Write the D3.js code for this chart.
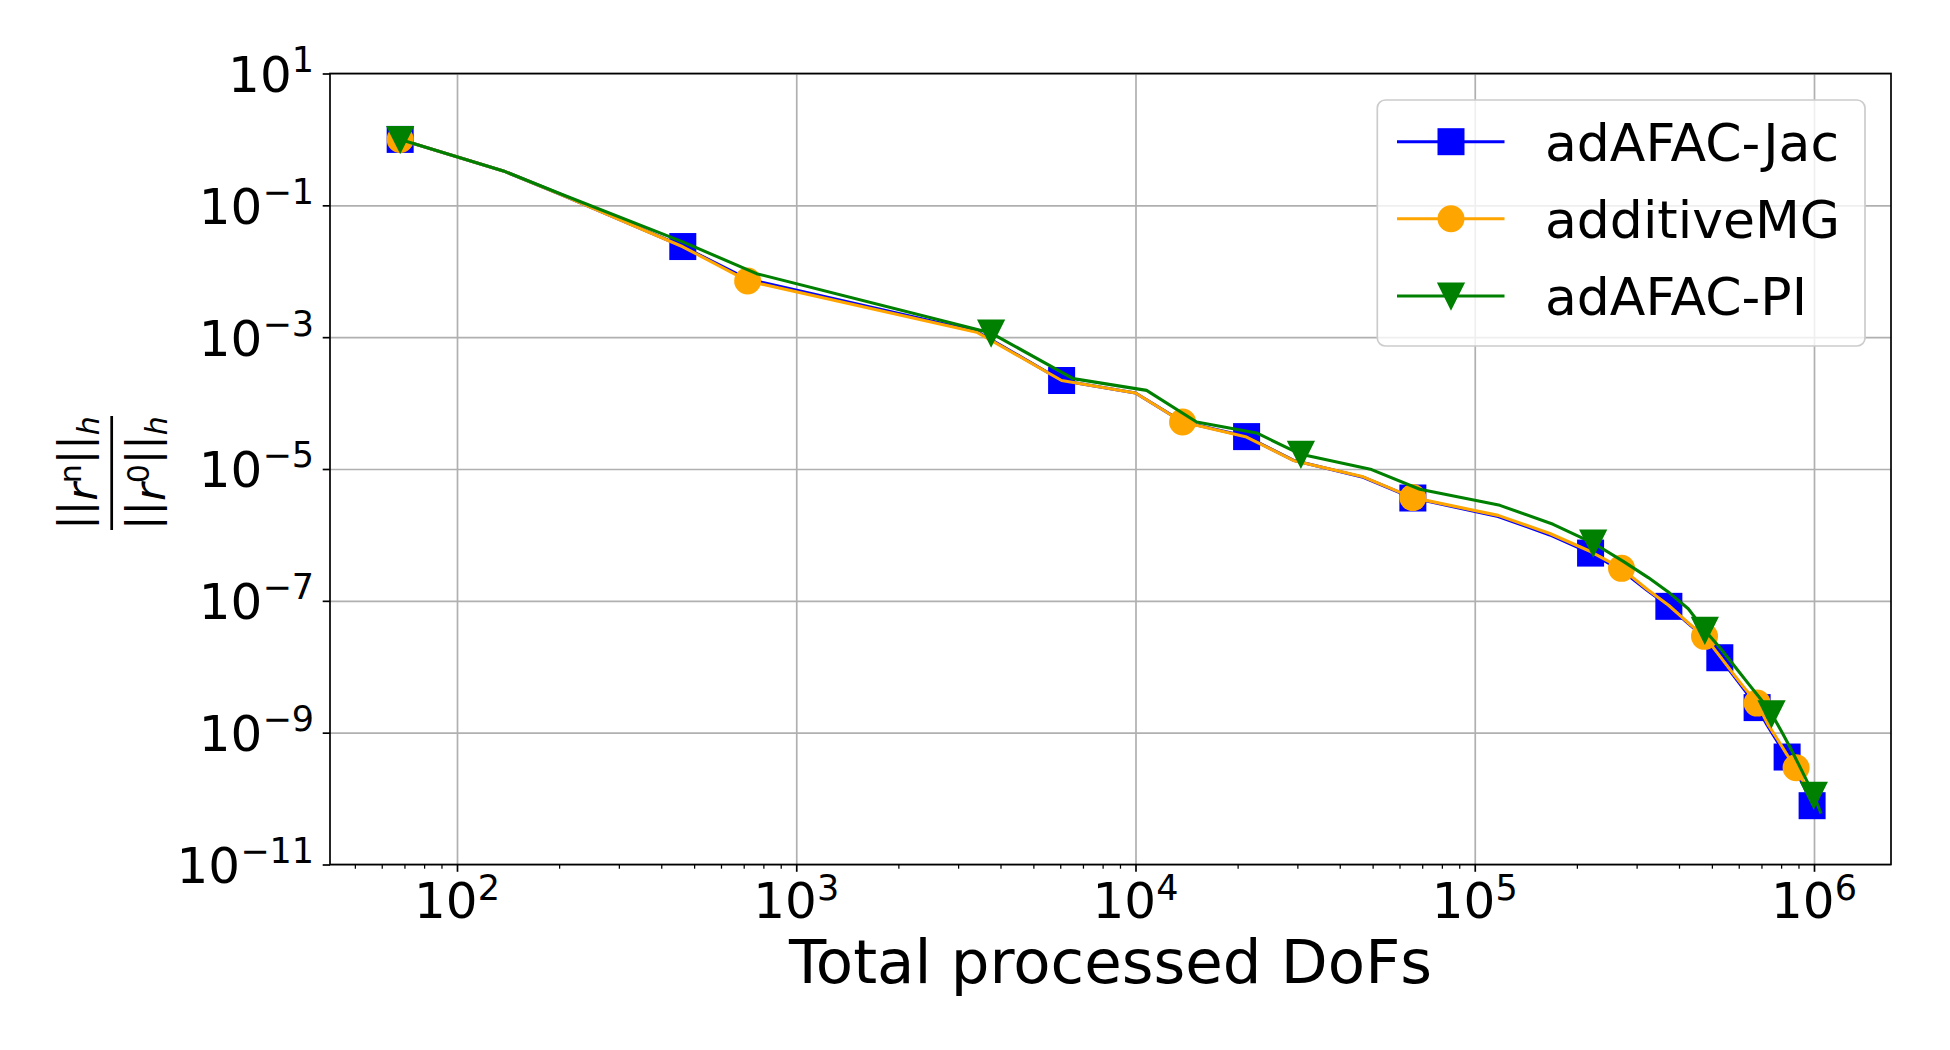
<!DOCTYPE html>
<html><head><meta charset="utf-8">
<script src="https://cdn.jsdelivr.net/npm/d3@7"></script>
<style>
body{margin:0;background:#fff}
text{font-family:"DejaVu Sans",sans-serif;fill:#000}
</style>
</head><body>
<svg id="chart" width="1950" height="1050"></svg>
<script>
// ---------------- data ----------------
const seriesNames = ["adAFAC-Jac", "additiveMG", "adAFAC-PI"];
const dofsJacMG = [68, 137, 205, 463, 719, 3402, 6056, 10000, 13764, 21256, 29160, 46900, 65700,
  117200, 166500, 219500, 270800, 322100, 373400, 424500, 475600, 527700, 578500, 629100,
  679700, 730800, 782000, 833200, 885500, 936300, 987200];
const resJac = [1.0, 0.333, 0.142, 0.0237, 7.6e-3, 1.23e-3, 2.2e-4, 1.42e-4, 5.2e-5, 3.1e-5,
  1.36e-5, 7.5e-6, 3.63e-6, 1.9e-6, 1.0e-6, 5.3e-7, 2.9e-7, 1.45e-7, 8.25e-8, 4.6e-8, 2.8e-8,
  1.37e-8, 7.4e-9, 4.2e-9, 2.4e-9, 1.25e-9, 7.2e-10, 4.27e-10, 2.6e-10, 1.5e-10, 7.8e-11];
const resMG = [1.0, 0.333, 0.142, 0.0235, 7.12e-3, 1.19e-3, 2.2e-4, 1.42e-4, 5.17e-5, 3.05e-5,
  1.35e-5, 7.6e-6, 3.68e-6, 1.98e-6, 1.05e-6, 5.6e-7, 3.11e-7, 1.5e-7, 8.5e-8, 4.7e-8, 2.89e-8,
  1.45e-8, 7.8e-9, 4.5e-9, 2.81e-9, 1.35e-9, 7.8e-10, 4.6e-10, 2.94e-10, 1.7e-10];
const dofsPI = [68, 137, 205, 463, 764, 3753, 6551, 10780, 15140, 22750, 30730, 49640, 68870,
  118600, 170200, 223400, 274000, 324700, 375400, 426000, 476600, 531200, 585800, 640400,
  695000, 749600, 799400, 849200, 899000, 948800, 998600, 1045000];
const resPI = [1.0, 0.333, 0.145, 0.0279, 9.2e-3, 1.154e-3, 2.35e-4, 1.56e-4, 5.17e-5, 3.52e-5,
  1.67e-5, 9.8e-6, 4.92e-6, 2.81e-6, 1.45e-6, 7.53e-7, 3.97e-7, 2.25e-7, 1.31e-7, 7.6e-8,
  3.57e-8, 1.88e-8, 9.9e-9, 5.55e-9, 3.28e-9, 1.94e-9, 1.08e-9, 6.05e-10, 3.39e-10,
  1.94e-10, 1.12e-10, 6.24e-11];
const markEvery = [3, 4, 5];
const xTickValues = [1e2, 1e3, 1e4, 1e5, 1e6];
const xTickExps = ["2", "3", "4", "5", "6"];
const yTickValues = [1e1, 1e-1, 1e-3, 1e-5, 1e-7, 1e-9, 1e-11];
const yTickExps = ["1", "\u22121", "\u22123", "\u22125", "\u22127", "\u22129", "\u221211"];
const xLabel = "Total processed DoFs";

// ---------------- styles / layout ----------------
const colors = ["#0000ff", "#ffa500", "#008000"];
const shapes = ["square", "circle", "tri"];
const L = 330, R = 1891, T = 73.5, B = 864.5;
const svg = d3.select("#chart");
svg.append("rect").attr("width", 1950).attr("height", 1050).attr("fill", "#fff");

const x = d3.scaleLog().domain([Math.pow(10, 1.62565), Math.pow(10, 6.22697)]).range([L, R]);
const y = d3.scaleLog().domain([1e-11, 1e1]).range([B, T]);

// grid
const gx = svg.append("g").attr("transform", `translate(0,${B})`)
  .call(d3.axisBottom(x).tickValues(xTickValues).tickSize(-(B - T)).tickFormat(""));
const gy = svg.append("g").attr("transform", `translate(${L},0)`)
  .call(d3.axisLeft(y).tickValues(yTickValues).tickSize(-(R - L)).tickFormat(""));
[gx, gy].forEach(g => {
  g.select(".domain").remove();
  g.selectAll("line").attr("stroke", "#b0b0b0").attr("stroke-width", 1.7);
});

// markers
function marker(sel, shape, color, s) {
  if (shape === "square") {
    sel.append("rect").attr("x", -s / 2).attr("y", -s / 2).attr("width", s).attr("height", s)
      .attr("fill", color).attr("stroke", color).attr("stroke-width", 2);
  } else if (shape === "circle") {
    sel.append("circle").attr("r", s / 2).attr("fill", color).attr("stroke", color).attr("stroke-width", 2);
  } else {
    sel.append("path").attr("d", `M0,${s / 2}L${-s / 2},${-s / 2}L${s / 2},${-s / 2}Z`)
      .attr("fill", color).attr("stroke", color).attr("stroke-width", 2).attr("stroke-linejoin", "miter");
  }
}

const seriesData = [
  dofsJacMG.map((d, i) => [d, resJac[i]]),
  resMG.map((r, i) => [dofsJacMG[i], r]),
  dofsPI.map((d, i) => [d, resPI[i]])
];
const line = d3.line().x(d => x(d[0])).y(d => y(d[1]));
const plot = svg.append("g");
seriesData.forEach((data, k) => {
  plot.append("path").datum(data).attr("d", line).attr("fill", "none")
    .attr("stroke", colors[k]).attr("stroke-width", 3.1)
    .attr("stroke-linejoin", "round").attr("stroke-linecap", "square");
  data.forEach((d, i) => {
    if (i % markEvery[k] === 0) {
      const g = plot.append("g").attr("transform", `translate(${x(d[0])},${y(d[1])})`);
      marker(g, shapes[k], colors[k], 25);
    }
  });
});

// legend
const lg = svg.append("g");
lg.append("rect").attr("x", 1377.3).attr("y", 100).attr("width", 1865 - 1377.3).attr("height", 246)
  .attr("rx", 8).attr("ry", 8)
  .attr("fill", "#fff").attr("fill-opacity", 0.8).attr("stroke", "#cccccc").attr("stroke-width", 1.7);
const rowY = [141.7, 218.8, 296];
seriesNames.forEach((name, k) => {
  lg.append("line").attr("x1", 1397).attr("x2", 1504.5).attr("y1", rowY[k]).attr("y2", rowY[k])
    .attr("stroke", colors[k]).attr("stroke-width", 3.1);
  marker(lg.append("g").attr("transform", `translate(1451,${rowY[k]})`), shapes[k], colors[k], 25);
  lg.append("text").attr("x", 1545).attr("y", rowY[k] + 19.3).attr("font-size", 52).text(name);
});

// frame
svg.append("rect").attr("x", L).attr("y", T).attr("width", R - L).attr("height", B - T)
  .attr("fill", "none").attr("stroke", "#000").attr("stroke-width", 1.7);

// ticks
const minorX = [];
for (let e = 1; e <= 6; e++) for (let m = 2; m <= 9; m++) {
  const v = m * Math.pow(10, e);
  if (v > x.domain()[0] && v < x.domain()[1]) minorX.push(v);
}
const tx = svg.append("g").attr("transform", `translate(0,${B})`)
  .call(d3.axisBottom(x).tickValues(xTickValues).tickSize(7.3).tickFormat(""));
const txm = svg.append("g").attr("transform", `translate(0,${B})`)
  .call(d3.axisBottom(x).tickValues(minorX).tickSize(4.2).tickFormat(""));
const ty = svg.append("g").attr("transform", `translate(${L},0)`)
  .call(d3.axisLeft(y).tickValues(yTickValues).tickSize(7.3).tickFormat(""));
[tx, txm, ty].forEach(g => {
  g.select(".domain").remove();
  g.selectAll("line").attr("stroke", "#000").attr("stroke-width", 1.7);
});
txm.selectAll("line").attr("stroke-width", 1.25);

// tick labels
xTickValues.forEach((v, i) => {
  const t = svg.append("text").attr("x", x(v)).attr("y", 918.3).attr("text-anchor", "middle").attr("font-size", 50);
  t.append("tspan").text("10");
  t.append("tspan").attr("font-size", 35).attr("dy", -18.5).text(xTickExps[i]);
});
yTickValues.forEach((v, i) => {
  const t = svg.append("text").attr("x", 314).attr("y", y(v) + 18.4).attr("text-anchor", "end").attr("font-size", 50);
  t.append("tspan").text("10");
  t.append("tspan").attr("font-size", 35).attr("dy", -20).text(yTickExps[i]);
});

// axis labels
svg.append("text").attr("x", (L + R) / 2).attr("y", 983).attr("text-anchor", "middle")
  .attr("font-size", 61).text(xLabel);

const yl = svg.append("g").attr("transform", "translate(111.7,473) rotate(-90)");
function normText(g, base, sup) {
  const t = g.append("text").attr("x", 0).attr("y", base).attr("text-anchor", "middle").attr("font-size", 43);
  t.append("tspan").attr("dy", -8).text("||");
  t.append("tspan").attr("dy", 8).attr("font-style", "italic").text("r");
  t.append("tspan").attr("dy", -16).attr("font-size", 30).text(sup);
  t.append("tspan").attr("dy", 8).text("||");
  t.append("tspan").attr("dy", 10).attr("font-size", 30).attr("font-style", "italic").text("h");
}
normText(yl, -15, "n");
yl.append("line").attr("x1", -57).attr("x2", 57).attr("y1", 0).attr("y2", 0)
  .attr("stroke", "#000").attr("stroke-width", 2.7);
normText(yl, 53, "0");
</script>
</body></html>
